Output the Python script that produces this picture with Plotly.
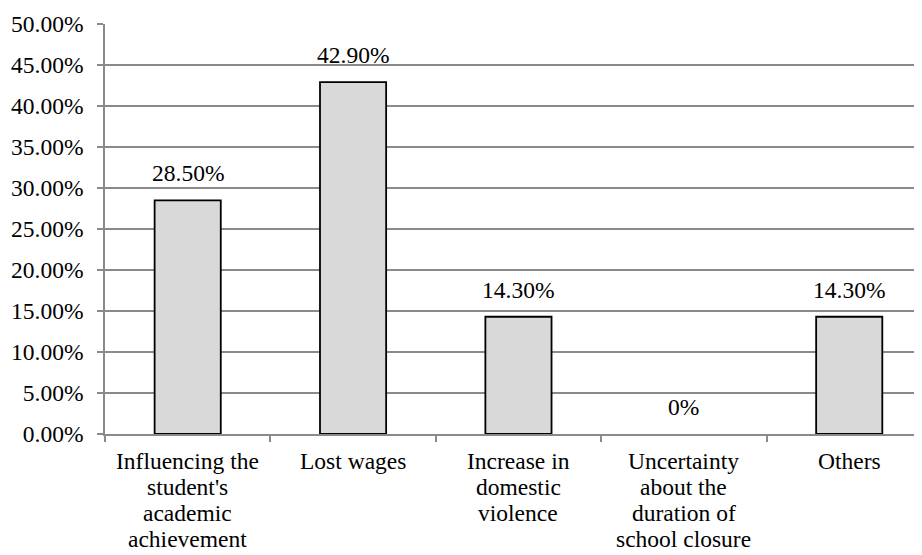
import plotly.graph_objects as go

categories = ["Influencing the student's academic achievement",
              "Lost wages",
              "Increase in domestic violence",
              "Uncertainty about the duration of school closure",
              "Others"]
category_lines = [["Influencing the", "student's", "academic", "achievement"],
                  ["Lost wages"],
                  ["Increase in", "domestic", "violence"],
                  ["Uncertainty", "about the", "duration of", "school closure"],
                  ["Others"]]
values = [28.5, 42.9, 14.3, 0.0, 14.3]
labels = ["28.50%", "42.90%", "14.30%", "0%", "14.30%"]
y_ticks = [0, 5, 10, 15, 20, 25, 30, 35, 40, 45, 50]
y_tick_text = ["%.2f%%" % v for v in y_ticks]

FAM = "Liberation Serif"
SIZE = 23.5
grid = "#8a8a8a"

def f():
    return dict(family=FAM, size=SIZE, color="black")

fig = go.Figure()
fig.add_trace(go.Bar(
    x=list(range(len(categories))), y=values,
    width=0.4,
    marker=dict(color="#d9d9d9",
                line=dict(color="#000000", width=[1.8 if v > 0 else 0 for v in values])),
    hoverinfo="skip",
))

for i, (v, t) in enumerate(zip(values, labels)):
    fig.add_annotation(x=i, y=v, text=t, showarrow=False, yanchor="middle",
                       yshift=27, font=f())

for i, lines in enumerate(category_lines):
    for k, line in enumerate(lines):
        fig.add_annotation(x=i, y=0, text=line, showarrow=False, yanchor="middle",
                           yshift=-(26.5 + 26 * k), font=f())

fig.update_layout(
    width=922, height=555,
    margin=dict(l=97, r=8, t=16, b=129, autoexpand=False),
    paper_bgcolor="white", plot_bgcolor="white",
    showlegend=False,
)
fig.update_xaxes(
    tickmode="array", tickvals=list(range(len(categories))),
    ticktext=[""] * len(categories),
    range=[-0.5, 4.44], automargin=False,
    showline=True, linecolor=grid, linewidth=1.5,
    showgrid=False, zeroline=False,
    ticks="",
)
fig.update_xaxes(minor=dict(tickmode="array", tickvals=[-0.5, 0.5, 1.5, 2.5, 3.5],
                            ticks="outside", ticklen=6, tickcolor=grid, tickwidth=1.5,
                            showgrid=False))
fig.update_yaxes(
    range=[0, 50], tickmode="array", tickvals=y_ticks, ticktext=y_tick_text,
    automargin=False,
    showline=True, linecolor=grid, linewidth=1.5,
    showgrid=True, gridcolor=grid, gridwidth=1.5,
    zeroline=False,
    ticks="outside", ticklen=6, tickcolor=grid, tickwidth=1.5,
    tickfont=f(), ticklabelstandoff=9,
)
fig.write_html("out.html")
